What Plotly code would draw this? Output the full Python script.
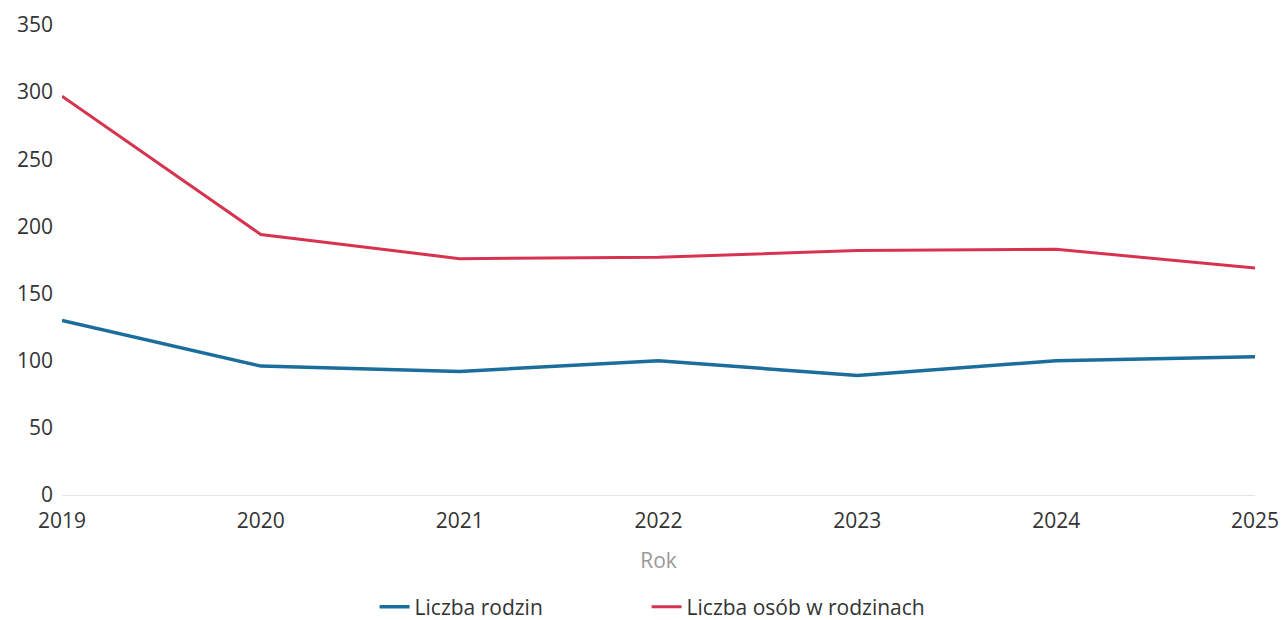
import plotly.graph_objects as go

years = [2019, 2020, 2021, 2022, 2023, 2024, 2025]
rodziny = [130, 96, 92, 100, 89, 100, 103]
osoby = [297, 194, 176, 177, 182, 183, 169]
y_ticks = [0, 50, 100, 150, 200, 250, 300, 350]

fig = go.Figure()
fig.add_trace(go.Scatter(x=years, y=rodziny, mode="lines", name="Liczba rodzin",
                         line=dict(color="#1b6d9c", width=3.5), legend="legend"))
fig.add_trace(go.Scatter(x=years, y=osoby, mode="lines", name="Liczba osób w rodzinach",
                         line=dict(color="#d7334f", width=3), legend="legend2"))

leg_common = dict(orientation="h", xref="paper", xanchor="left",
                  yref="container", y=0.021, yanchor="middle",
                  font=dict(size=21, color="#333333"), bgcolor="rgba(0,0,0,0)")

fig.update_layout(
    width=1282, height=620,
    margin=dict(l=62, r=27, t=25, b=125, autoexpand=False),
    paper_bgcolor="white", plot_bgcolor="white",
    font=dict(family="Open Sans", size=21, color="#333333"),
    showlegend=True,
    legend=dict(x=0.262, **leg_common),
    legend2=dict(x=0.490, **leg_common),
    xaxis=dict(range=[2019, 2025], tickvals=years, ticktext=[str(y) for y in years],
               showgrid=False, zeroline=False, showline=False, ticks="",
               automargin=False, ticklabelstandoff=11,
               title=dict(text="Rok", font=dict(color="#999999", size=21), standoff=20)),
    yaxis=dict(range=[0, 350], tickvals=y_ticks, showgrid=False, zeroline=True,
               zerolinecolor="#e6e6e6", zerolinewidth=1, showline=False, ticks="",
               automargin=False, ticklabelstandoff=8),
)

fig.write_html("out.html", config={"displayModeBar": False},
               post_script="document.body.style.margin='0';document.body.style.overflow='hidden';")
